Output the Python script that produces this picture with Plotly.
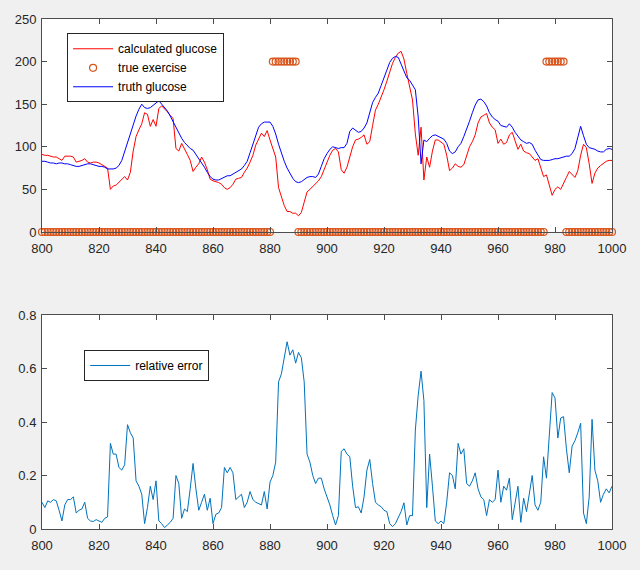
import plotly.graph_objects as go

# sample index 800..1000
t = list(range(800, 1001))

calculated_glucose = [
    91, 90, 90, 89, 88, 88, 86, 84, 89, 89,
    89, 88, 82, 83, 84, 86, 82, 81, 82, 82,
    81, 79, 77, 75, 50, 54, 55, 58, 62, 65,
    61, 70, 95, 112, 120, 127, 140, 138, 124, 132,
    124, 145, 148, 145, 141, 137, 133, 98, 95, 104,
    98, 91, 84, 71, 76, 80, 88, 82, 73, 62,
    60, 59, 58, 56, 52, 50, 52, 56, 62, 63,
    64, 70, 75, 82, 90, 102, 110, 116, 112, 119,
    108, 97, 88, 52, 40, 31, 24, 24, 22, 22,
    19, 23, 35, 47, 50, 53, 57, 60, 65, 73,
    83, 90, 96, 98, 94, 73, 69, 76, 88, 100,
    108, 109, 111, 114, 103, 106, 125, 143, 150, 158,
    167, 177, 188, 198, 205, 210, 212, 203, 186, 172,
    155, 115, 90, 123, 61, 88, 76, 95, 108, 108,
    106, 103, 90, 72, 75, 80, 77, 76, 79, 90,
    100, 106, 114, 128, 135, 137, 139, 128, 123, 120,
    104, 109, 103, 105, 114, 117, 106, 97, 103, 95,
    93, 92, 88, 84, 86, 74, 65, 67, 55, 43,
    50, 53, 50, 58, 64, 71, 68, 64, 72, 90,
    103, 99, 80, 57, 69, 75, 78, 81, 83, 84,
    84,
]

truth_glucose = [
    83, 83, 82, 81, 81, 80, 81, 81, 80, 80,
    79, 78, 77, 77, 78, 79, 80, 80, 79, 78,
    77, 77, 76, 74, 74, 74, 75, 78, 84, 95,
    104, 115, 127, 136, 144, 150, 146, 145, 146, 149,
    151, 154, 150, 146, 142, 136, 129, 124, 117, 110,
    105, 101, 98, 96, 91, 87, 82, 76, 70, 65,
    62, 61, 61, 63, 65, 66, 66, 68, 70, 71,
    74, 78, 83, 93, 103, 114, 123, 127, 129, 129,
    129, 124, 115, 103, 92, 83, 75, 69, 63, 59,
    58, 59, 62, 64, 65, 65, 64, 68, 77, 86,
    92, 97, 100, 99, 98, 99, 99, 104, 118, 122,
    119, 117, 118, 122, 128, 141, 152, 158, 163, 172,
    180, 190, 199, 204, 206, 205, 197, 188, 181, 178,
    173, 167, 135, 80, 108, 106, 110, 113, 114, 112,
    110, 109, 104, 95, 92, 94, 100, 104, 112, 120,
    130, 140, 149, 155, 156, 153, 148, 140, 135, 132,
    130, 125, 124, 123, 127, 123, 117, 112, 108, 106,
    104, 105, 103, 96, 91, 85, 84, 84, 84, 85,
    86, 86, 87, 88, 89, 89, 92, 98, 110, 124,
    113, 103, 99, 98, 97, 95, 94, 94, 97, 98,
    97,
]

# exercise flag shown as 0 / 200
true_exercise = [0] * 81 + [200] * 9 + [0] * 87 + [200] * 7 + [0] * 17

relative_error = [
    0.10, 0.08, 0.105, 0.10, 0.11, 0.105, 0.07, 0.03, 0.09, 0.11,
    0.11, 0.12, 0.06, 0.07, 0.075, 0.10, 0.04, 0.03, 0.028, 0.035,
    0.03, 0.025, 0.04, 0.045, 0.32, 0.28, 0.28, 0.23, 0.22, 0.24,
    0.39, 0.36, 0.34, 0.18, 0.16, 0.13, 0.02, 0.08, 0.16, 0.11,
    0.18, 0.03, 0.02, 0.005, 0.015, 0.025, 0.04, 0.20, 0.17, 0.04,
    0.075, 0.065, 0.15, 0.245, 0.15, 0.07, 0.10, 0.13, 0.07, 0.115,
    0.02, 0.055, 0.06, 0.08, 0.23, 0.21, 0.23, 0.21, 0.11, 0.12,
    0.13, 0.08, 0.10, 0.14, 0.11, 0.10, 0.095, 0.09, 0.14, 0.075,
    0.175, 0.20, 0.25, 0.55, 0.58, 0.64, 0.70, 0.65, 0.67, 0.62,
    0.66, 0.64, 0.55, 0.28, 0.25, 0.20, 0.17, 0.19, 0.19, 0.15,
    0.12, 0.09, 0.05, 0.015, 0.05, 0.29, 0.30, 0.28, 0.27, 0.16,
    0.08, 0.083, 0.06, 0.12, 0.22, 0.26, 0.17, 0.10, 0.09, 0.083,
    0.07, 0.065, 0.02, 0.009, 0.02, 0.04, 0.065, 0.098, 0.015, 0.05,
    0.05, 0.37, 0.50, 0.59, 0.48, 0.08, 0.28, 0.16, 0.03, 0.02,
    0.03, 0.02, 0.10, 0.21, 0.20, 0.15, 0.32, 0.28, 0.30, 0.17,
    0.16, 0.18, 0.21, 0.15, 0.12, 0.11, 0.05, 0.11, 0.10, 0.11,
    0.22, 0.10, 0.16, 0.145, 0.19, 0.035, 0.10, 0.16, 0.025, 0.115,
    0.065, 0.14, 0.20, 0.09, 0.07, 0.10, 0.27, 0.19, 0.36, 0.51,
    0.49, 0.34, 0.415, 0.42, 0.30, 0.21, 0.31, 0.33, 0.36, 0.395,
    0.06, 0.02, 0.12, 0.41, 0.22, 0.18, 0.10, 0.13, 0.15, 0.135,
    0.16,
]

x_ticks = [800, 820, 840, 860, 880, 900, 920, 940, 960, 980, 1000]

FONT = "Liberation Sans, Arial, sans-serif"
AXIS_COLOR = "#4d4d4d"
TEXT_COLOR = "#262626"
BG = "#f0f0f0"

fig = go.Figure()

fig.add_trace(go.Scatter(
    x=t, y=calculated_glucose, mode="lines", name="calculated glucose",
    line=dict(color="#ff0000", width=1), legend="legend",
    xaxis="x", yaxis="y",
))
fig.add_trace(go.Scatter(
    x=t, y=true_exercise, mode="markers", name="true exercise",
    marker=dict(symbol="circle-open", size=7, color="#d95319",
                line=dict(width=1.2)),
    cliponaxis=False, legend="legend", xaxis="x", yaxis="y",
))
fig.add_trace(go.Scatter(
    x=t, y=truth_glucose, mode="lines", name="truth glucose",
    line=dict(color="#0000ff", width=1), legend="legend",
    xaxis="x", yaxis="y",
))
fig.add_trace(go.Scatter(
    x=t, y=relative_error, mode="lines", name="relative error",
    line=dict(color="#0072bd", width=1), legend="legend2",
    xaxis="x2", yaxis="y2",
))

axis_style = dict(
    showline=True, linecolor=AXIS_COLOR, linewidth=1, mirror="ticks",
    ticks="inside", ticklen=5, tickcolor=AXIS_COLOR, showgrid=False,
    zeroline=False, automargin=False,
    tickfont=dict(family=FONT, size=13, color=TEXT_COLOR),
)

legend_style = dict(
    bgcolor="white", bordercolor="#262626", borderwidth=1,
    font=dict(family=FONT, size=12, color="black"),
    xanchor="left", yanchor="top", tracegroupgap=0, itemwidth=40,
)

fig.update_layout(
    width=640, height=570,
    paper_bgcolor=BG, plot_bgcolor="white",
    margin=dict(l=42, r=28, t=19, b=41),
    xaxis=dict(domain=[0, 1], range=[800, 1000], tickvals=x_ticks,
               anchor="y", ticklabelstandoff=4, **axis_style),
    yaxis=dict(domain=[0.5824, 1], range=[0, 250], dtick=50,
               anchor="x", ticklabelstandoff=2, **axis_style),
    xaxis2=dict(domain=[0, 1], range=[800, 1000], tickvals=x_ticks,
                anchor="y2", ticklabelstandoff=4, **axis_style),
    yaxis2=dict(domain=[0, 0.4196], range=[0, 0.8], dtick=0.2,
                anchor="x2", ticklabelstandoff=2, **axis_style),
    legend=dict(x=0.044, y=0.972, **legend_style),
    legend2=dict(x=0.074, y=0.351, **legend_style),
    showlegend=True,
)

# drop the default page margin so the figure sits at the top-left corner
fig.write_html(
    "out.html",
    config={"displayModeBar": False},
    post_script="document.body.style.margin='0';"
                "document.body.style.background='" + BG + "';",
)
